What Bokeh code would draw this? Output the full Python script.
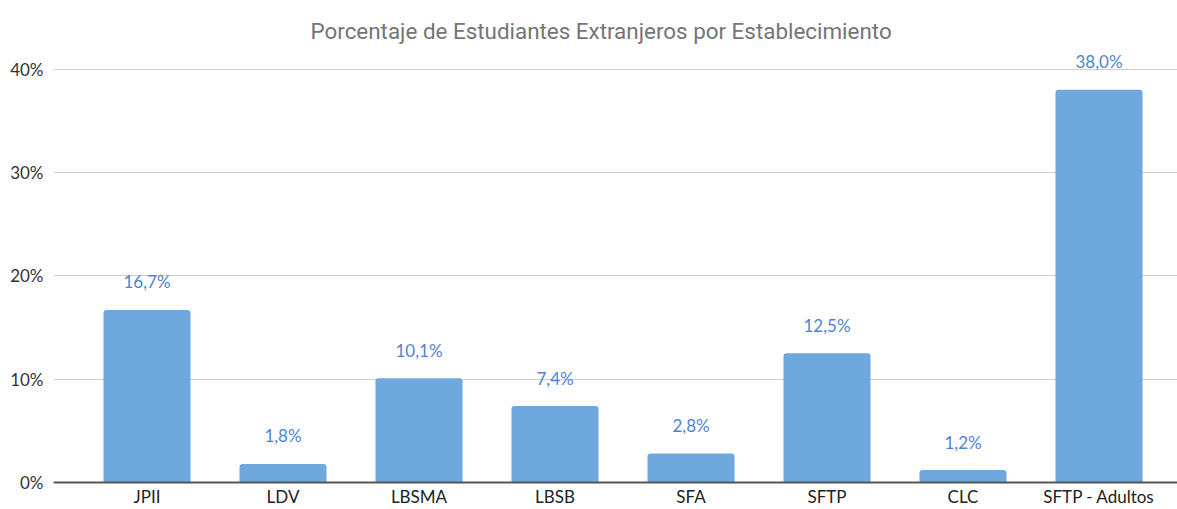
from bokeh.plotting import figure
from bokeh.models import ColumnDataSource, Range1d, FixedTicker, NumeralTickFormatter
from bokeh.core.properties import value
from bokeh.embed import file_html
from bokeh.resources import INLINE

categories = ["JPII", "LDV", "LBSMA", "LBSB", "SFA", "SFTP", "CLC", "SFTP - Adultos"]
values = [16.7, 1.8, 10.1, 7.4, 2.8, 12.5, 1.2, 38.0]
y_ticks = [0, 10, 20, 30, 40]

labels = [f"{v:.1f}".replace(".", ",") + "%" for v in values]
xs = list(range(len(categories)))
src = ColumnDataSource(dict(x=xs, top=[v / 100 for v in values], label=labels))

p = figure(width=1177, height=509, output_backend="svg", toolbar_location=None,
           x_range=Range1d(-0.6875, 7.577), y_range=Range1d(0, 0.42),
           min_border_left=53, min_border_right=0, min_border_top=48, min_border_bottom=0,
           title="Porcentaje de Estudiantes Extranjeros por Establecimiento")
p.outline_line_color = None
p.background_fill_color = "white"
p.border_fill_color = "white"

p.title.align = "left"
p.title.offset = 257
p.title.text_font = "Roboto"
p.title.text_font_style = "normal"
p.title.text_font_size = "22.4px"
p.title.text_color = "#757575"

p.vbar(x="x", top="top", width=0.64, source=src, fill_color="#6fa8dc", line_color=None,
       border_radius=(3, 3, 0, 0))
p.text(x="x", y="top", text="label", source=src, text_align="center", text_baseline="middle",
       y_offset=-28, text_font=value("Lato"), text_font_size="17px", text_color="#4f84d6")

p.xgrid.grid_line_color = None
p.ygrid.grid_line_color = "#d0d0d0"
p.ygrid.ticker = FixedTicker(ticks=[t / 100 for t in y_ticks])

p.yaxis.ticker = FixedTicker(ticks=[t / 100 for t in y_ticks])
p.yaxis.formatter = NumeralTickFormatter(format="0%")
p.yaxis.axis_line_color = None
p.yaxis.major_tick_line_color = None
p.yaxis.minor_tick_line_color = None
p.yaxis.major_tick_out = 0
p.yaxis.major_tick_in = 0
p.yaxis.major_label_standoff = 10
p.yaxis.major_label_text_font = "Lato"
p.yaxis.major_label_text_font_size = "17px"
p.yaxis.major_label_text_color = "#333333"

p.xaxis.ticker = FixedTicker(ticks=xs)
p.xaxis.major_label_overrides = {i: c for i, c in zip(xs, categories)}
p.xaxis.axis_line_color = "#555555"
p.xaxis.axis_line_width = 2
p.xaxis.major_tick_line_color = None
p.xaxis.minor_tick_line_color = None
p.xaxis.major_tick_out = 0
p.xaxis.major_tick_in = 0
p.xaxis.major_label_standoff = 3
p.xaxis.major_label_text_font = "Lato"
p.xaxis.major_label_text_font_size = "17px"
p.xaxis.major_label_text_color = "#222222"

open("out.html", "w").write(file_html(p, INLINE))
